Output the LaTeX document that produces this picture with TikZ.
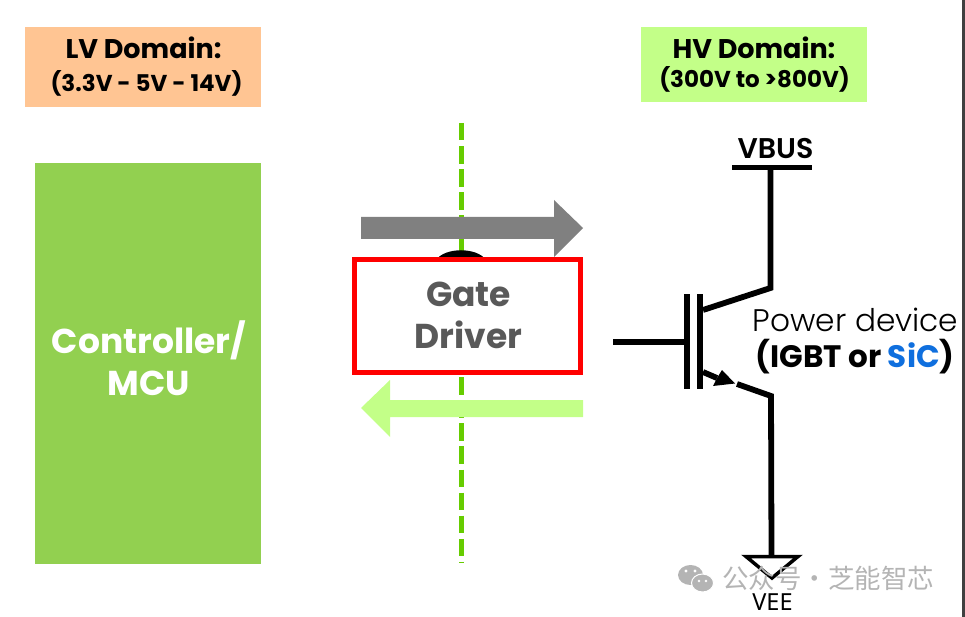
\documentclass[tikz,border=0pt]{standalone}
\usepackage{fontspec}
\setmainfont{Poppins}
\newfontfamily\cjk{Noto Sans CJK SC}
\newfontfamily\lightfont{Poppins}[UprightFont=* Light]
\newfontfamily\semifont{Poppins}[UprightFont=* SemiBold]
\newfontfamily\thinfont{Noto Sans}
\definecolor{lvorange}{HTML}{FFC593}
\definecolor{hvgreen}{HTML}{C3FF88}
\definecolor{mcugreen}{HTML}{92D050}
\definecolor{isoline}{HTML}{66CC00}
\definecolor{sicblue}{HTML}{0F6FDE}
\definecolor{markgray}{HTML}{B4B4B4}
\definecolor{drivertext}{HTML}{595959}
\tikzset{
	titletext/.style={anchor=base,inner sep=0pt,font=\bfseries\fontsize{27}{33}\selectfont},
	rangetext/.style={anchor=base,inner sep=0pt,font=\bfseries\fontsize{23}{33}\selectfont},
	bigbox/.style={inner sep=0pt,align=center,font=\bfseries\fontsize{34.5}{42}\selectfont},
	wire/.style={line width=5.8pt,black},
	bar/.style={line width=6pt,black},
}
\begin{document}
\begin{tikzpicture}[x=1pt,y=-1pt]
	\useasboundingbox (0,0) rectangle (965,617);
	% domains
		\fill[lvorange] (25,27) rectangle (261,107);
		\fill[hvgreen] (641,27) rectangle (867,102);
		\node[titletext] (lvtitle) at (143.5,59) {LV Domain:};
		\node[rangetext] (lvrange) at (146.5,92) {(3.3V - 5V - 14V)};
		\node[titletext] (hvtitle) at (754,59) {HV Domain:};
		\node[rangetext] (hvrange) at (754.5,88) {(300V to >800V)};
	% controller
		\node[fill=mcugreen,minimum width=226pt,minimum height=401pt,inner sep=0pt] (mcu) at (148,363.5) {};
		\node[bigbox,text=white] (mcutext) at (149,358.5) {Controller/\\MCU};
	% isolation
		\coordinate (isotop) at (461.5,123);
		\coordinate (isobot) at (461.5,563);
		\draw[isoline,line width=5.5pt,dash pattern=on 17.5pt off 5.6pt] (isotop) -- (isobot);
	% gate driver
		\fill[black] (436,260) .. controls (445,247) and (477,247) .. (486,260) -- cycle;
		\node[draw=red,line width=5pt,fill=white,minimum width=226pt,minimum height=112.5pt,inner sep=0pt] (driver) at (467.5,316) {};
		\node[bigbox,text=drivertext] (drivertext) at (468.5,315.5) {Gate\\Driver};
	% signal arrows
		\fill[gray] (361,217) -- (554,217) -- (554,200) -- (583,228) -- (554,257) -- (554,239) -- (361,239) -- cycle;
		\fill[hvgreen] (583,400) -- (390,400) -- (390,380) -- (361,408) -- (390,437) -- (390,417) -- (583,417) -- cycle;
	% power device
		\coordinate (gatein) at (613,342);
		\coordinate (gatebar) at (684,342);
		\coordinate (busl) at (732,167.5);
		\coordinate (busr) at (812,167.5);
		\coordinate (busm) at (770.5,167.5);
		\coordinate (ctop) at (770.5,288);
		\coordinate (cbase) at (703,310);
		\coordinate (ebase) at (703,372);
		\coordinate (enotch) at (717,378);
		\coordinate (eout) at (737,384);
		\coordinate (ebend) at (771,396);
		\coordinate (gndtop) at (771.5,556);
		\draw[wire] (busl) -- (busr);
		\draw[wire,line join=miter] (busm) -- (ctop) -- (cbase);
		\draw[bar] (gatein) -- (gatebar);
		\draw[bar] (687,294) -- (687,389);
		\draw[bar] (700,294) -- (700,389);
		\draw[wire] (ebase) -- (enotch);
		\fill[black] (735,383.5) -- (713,386) -- (enotch) -- (722,370) -- cycle;
		\draw[wire,line join=miter] (eout) -- (ebend) -- (gndtop);
		\node[font=\semifont\fontsize{28.5}{32}\selectfont] (vbus) at (775.5,149) {VBUS};
		\node[font=\lightfont\fontsize{31.2}{36}\selectfont,inner sep=0pt] (pdlabel) at (855.5,320) {Power device};
		\node[font=\bfseries\fontsize{31}{36}\selectfont,inner sep=0pt] (pdtype) at (855,357) {(IGBT or \textcolor{sicblue}{SiC})};
	% ground
		\draw[line width=3.5pt,miter limit=4] (746,556.5) -- (798,556.5) -- (772,578) -- cycle;
		\node[font=\thinfont\fontsize{23.5}{26}\selectfont,inner sep=0pt] (vee) at (772.5,602) {VEE};
	% watermark
		\fill[markgray] (690.5,575) ellipse (12.5 and 10);
		\fill[markgray,draw=white,line width=1pt] (702.5,583) ellipse (11 and 9);
		\foreach \x/\y/\r in {686/571/1.6,695/571/1.6,699/581/1.3,706/581/1.3}{
			\fill[white] (\x,\y) circle (\r);
			}
		\node[text=markgray,font=\cjk\fontsize{26.5}{30}\selectfont,inner sep=0pt] (mark) at (828,578) {公众号·芝能智芯};
	% right edge
		\fill[black!75] (962,0) rectangle (965,617);
\end{tikzpicture}
\end{document}
